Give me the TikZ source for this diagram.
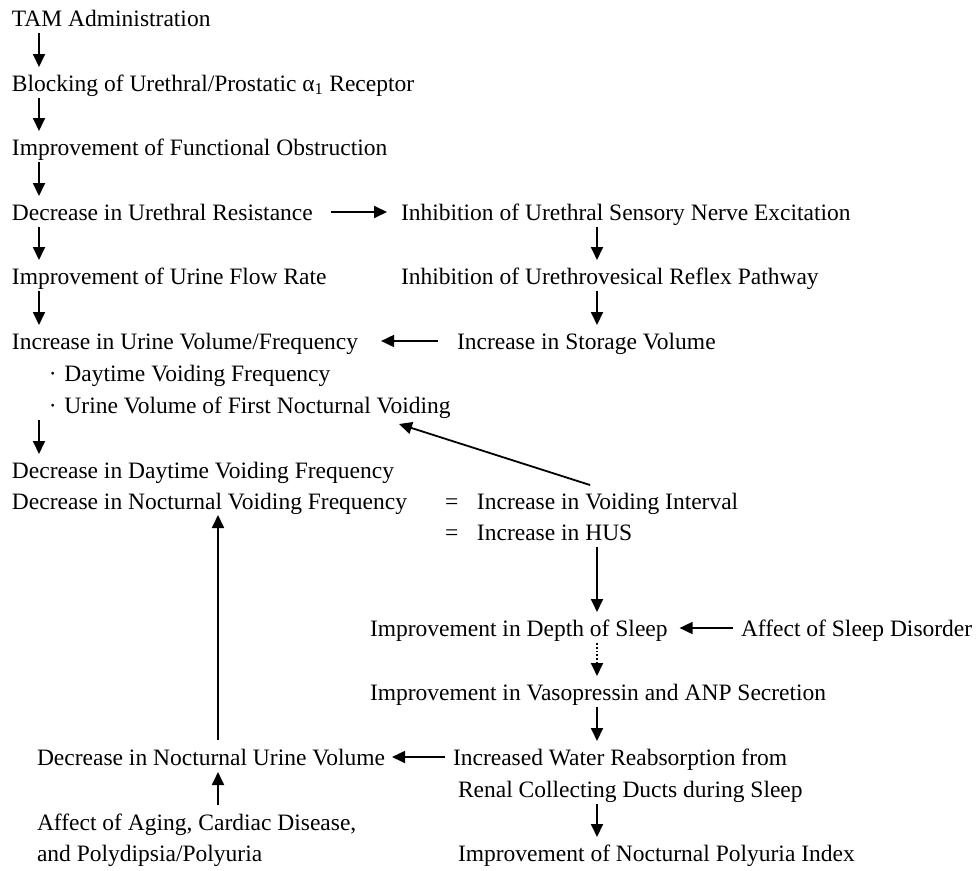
\documentclass[tikz,border=0pt]{standalone}
\usepackage{fontspec}
\setmainfont{Liberation Serif}
\usetikzlibrary{arrows.meta}
\newcommand\myblt{\makebox[23.5pt][c]{·}}
\newcommand\myeqs{\makebox[32pt][l]{=}}
\begin{document}
\begin{tikzpicture}[x=1pt,y=-1pt,
  txt/.style={anchor=base west,inner sep=0pt,outer sep=0pt,
    font=\fontsize{23.5}{31}\selectfont,text height=16pt,text depth=0pt},
  arr/.style={line width=1.8pt,-{Triangle[width=12pt,length=13pt]}},
  vdown/.style={arr,shorten <=7pt,shorten >=8pt},
]
\useasboundingbox (0,0) rectangle (976,870);
% columns
\coordinate (cA) at (39,0);
\coordinate (cB) at (597,0);
\coordinate (cC) at (218,0);
% nodes
\node[txt] (tam) at (12,26) {TAM Administration};
\node[txt] (blk) at (12,91) {Blocking of Urethral/Prostatic α\textsubscript{1} Receptor};
\node[txt] (fo)  at (12,155) {Improvement of Functional Obstruction};
\node[txt] (dur) at (12,220) {Decrease in Urethral Resistance};
\node[txt] (isn) at (401,220) {Inhibition of Urethral Sensory Nerve Excitation};
\node[txt] (ufr) at (12,284) {Improvement of Urine Flow Rate};
\node[txt] (irp) at (401,284) {Inhibition of Urethrovesical Reflex Pathway};
\node[txt] (iuv) at (12,349) {Increase in Urine Volume/Frequency};
\node[txt] (isv) at (457,349) {Increase in Storage Volume};
\node[txt] (b1)  at (41,381) {\myblt Daytime Voiding Frequency};
\node[txt] (b2)  at (41,413) {\myblt Urine Volume of First Nocturnal Voiding};
\node[txt] (ddv) at (12,478) {Decrease in Daytime Voiding Frequency};
\node[txt] (dnv) at (12,509) {Decrease in Nocturnal Voiding Frequency};
\node[txt] (ivi) at (445,509) {\myeqs Increase in Voiding Interval};
\node[txt] (hus) at (445,540) {\myeqs Increase in HUS};
\node[txt] (ds)  at (370,636) {Improvement in Depth of Sleep};
\node[txt] (asd) at (741,636) {Affect of Sleep Disorder};
\node[txt] (vap) at (370,700) {Improvement in Vasopressin and ANP Secretion};
\node[txt] (dnu) at (37,765) {Decrease in Nocturnal Urine Volume};
\node[txt] (iwr) at (453,765) {Increased Water Reabsorption from};
\node[txt] (rcd) at (458,797) {Renal Collecting Ducts during Sleep};
\node[txt] (aag) at (37,830) {Affect of Aging, Cardiac Disease,};
\node[txt] (aag2) at (37,861) {and Polydipsia/Polyuria};
\node[txt] (npi) at (458,861) {Improvement of Nocturnal Polyuria Index};
% left column
\draw[vdown] (tam.south -| cA) -- (blk.north -| cA);
\draw[vdown] (blk.south -| cA) -- (fo.north -| cA);
\draw[vdown] (fo.south -| cA) -- (dur.north -| cA);
\draw[vdown] (dur.south -| cA) -- (ufr.north -| cA);
\draw[vdown] (ufr.south -| cA) -- (iuv.north -| cA);
\draw[vdown] (b2.south -| cA) -- (ddv.north -| cA);
% right column
\draw[arr,shorten <=18pt,shorten >=14pt] (dur.east) -- (isn.west);
\draw[vdown] (isn.south -| cB) -- (irp.north -| cB);
\draw[vdown] (irp.south -| cB) -- (isv.north -| cB);
\draw[arr,shorten <=19pt,shorten >=23pt] (isv.west) -- (iuv.east);
\draw[arr] ([xshift=145pt,yshift=8pt]ivi.north west) -- ([xshift=358pt,yshift=-11pt]b2.base west);
\draw[vdown] (hus.south -| cB) -- (ds.north -| cB);
\draw[arr,shorten <=8pt,shorten >=12pt] (asd.west) -- (ds.east);
\draw[vdown,dotted] (ds.south -| cB) -- (vap.north -| cB);
\draw[vdown] (vap.south -| cB) -- (iwr.north -| cB);
\draw[arr,shorten <=8pt,shorten >=7pt] (iwr.west) -- (dnu.east);
\draw[vdown] (rcd.south -| cB) -- (npi.north -| cB);
% bottom left
\draw[arr,shorten <=9pt,shorten >=6pt] (dnu.north -| cC) -- (dnv.south -| cC);
\draw[arr,shorten <=9pt,shorten >=7pt] (aag.north -| cC) -- (dnu.south -| cC);
\end{tikzpicture}
\end{document}
